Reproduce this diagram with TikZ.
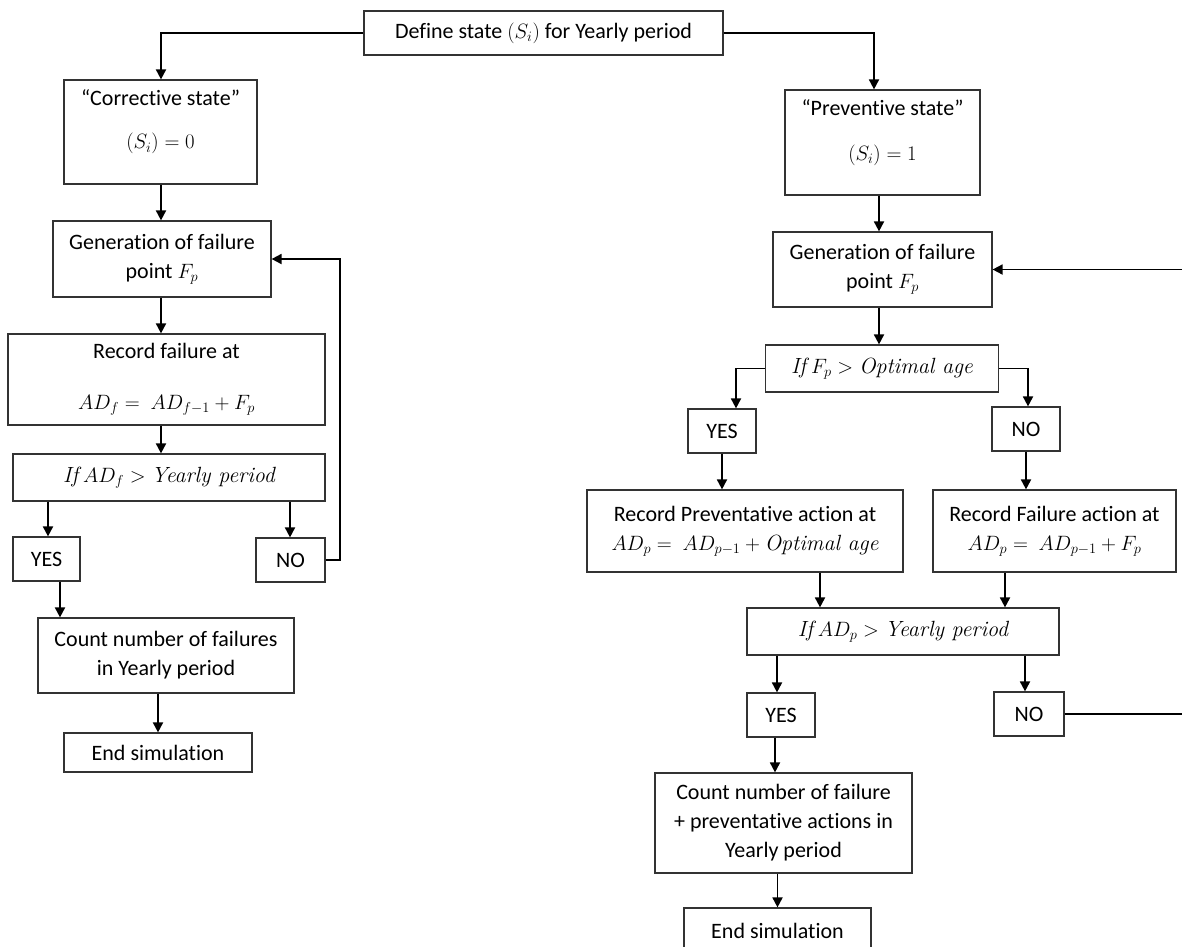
\documentclass[tikz,border=0pt]{standalone}
\usepackage{fontspec}
\setmainfont{Carlito}[Ligatures=NoCommon]
\usetikzlibrary{arrows.meta}
% italic serif words inside formulas
\newcommand\mw[1]{\mbox{\usefont{TU}{lmr}{m}{it}#1}}
\begin{document}
\begin{tikzpicture}[x=1pt,y=-1pt,
  font=\fontsize{22}{29}\selectfont,
  box/.style={draw=black!80, line width=1.2pt, inner sep=0pt, align=center, fill=white},
  flow/.style={line width=1.8pt, -{Triangle[length=10pt,width=10pt]}}]
\useasboundingbox (0,0) rectangle (1182,946);

% ---------- top ----------
\node[box, minimum width=359, minimum height=44] (def) at (543.5,33) {Define state $(S_i)$ for Yearly period};

% ---------- corrective branch ----------
\node[box, minimum width=193, minimum height=104] (corr) at (160.5,132) {“Corrective state”\\[14pt]$(S_i) = 0$\\[-4pt]\mbox{}};
\node[box, minimum width=218, minimum height=76] (gen1) at (162,259) {Generation of failure\\point $F_p$};
\node[box, minimum width=317, minimum height=91] (rec1) at (166.5,379.5) {Record failure at\\[22pt]$AD_f =\ AD_{f-1} + F_p$};
\node[box, minimum width=312, minimum height=47] (if1) at (169,477.5) {$\mw{If}\ AD_f > \mw{Yearly period}$};
\node[box, minimum width=67, minimum height=44] (yes1) at (46.5,559) {YES};
\node[box, minimum width=69, minimum height=44] (no1) at (290.5,560) {NO};
\node[box, minimum width=256, minimum height=75] (cnt1) at (166,655.5) {Count number of failures\\in Yearly period};
\node[box, minimum width=188, minimum height=39] (end1) at (158,752.5) {End simulation};

% ---------- preventive branch ----------
\node[box, minimum width=195, minimum height=105] (prev) at (882.5,142.5) {“Preventive state”\\[16pt]$(S_i) = 1$\\[-4pt]\mbox{}};
\node[box, minimum width=219, minimum height=75] (gen2) at (882.5,269.5) {Generation of failure\\point $F_p$};
\node[box, minimum width=233, minimum height=47] (if2) at (882,368.5) {$\mw{If}\ F_p > \mw{Optimal age}$};
\node[box, minimum width=68, minimum height=44] (yes2) at (722,431) {YES};
\node[box, minimum width=68, minimum height=44] (no2) at (1026,429) {NO};
\node[box, minimum width=316, minimum height=82] (recP) at (745,531) {Record Preventative action at\\$AD_p =\ AD_{p-1} + \mw{Optimal age}$};
\node[box, minimum width=243, minimum height=82] (recF) at (1054.5,531) {Record Failure action at\\$AD_p =\ AD_{p-1} + F_p$};
\node[box, minimum width=312, minimum height=47] (if3) at (903,631.5) {$\mw{If}\ AD_p > \mw{Yearly period}$};
\node[box, minimum width=68, minimum height=44] (yes3) at (781,715) {YES};
\node[box, minimum width=70, minimum height=44] (no3) at (1029,714) {NO};
\node[box, minimum width=257, minimum height=100] (cnt2) at (783.5,823) {Count number of failure\\+ preventative actions in\\Yearly period};
\node[box, minimum width=187, minimum height=46] (end2) at (777.5,931) {End simulation};

% ---------- connector columns ----------
\coordinate (cL) at (161,0);
\coordinate (cLyes) at (48,0);
\coordinate (cLno) at (290,0);
\coordinate (cLcnt) at (60,0);
\coordinate (cLloop) at (340,0);
\coordinate (cP) at (874,0);
\coordinate (cR) at (879,0);
\coordinate (cRyes) at (736,0);
\coordinate (cRno) at (1028,0);
\coordinate (cRp) at (820,0);
\coordinate (cRf) at (1005,0);
\coordinate (cRy3) at (777,0);
\coordinate (cRn3) at (1025,0);
\coordinate (cRc) at (775,0);
\coordinate (cRe) at (777.5,0);
\coordinate (cRedge) at (1195,0);

% ---------- corrective connectors ----------
\draw[flow] (def.west) -| (cL |- corr.north);
\draw[flow] (cL |- corr.south) -- (cL |- gen1.north);
\draw[flow] (cL |- gen1.south) -- (cL |- rec1.north);
\draw[flow] (cL |- rec1.south) -- (cL |- if1.north);
\draw[flow] (cLyes |- if1.south) -- (cLyes |- yes1.north);
\draw[flow] (cLno |- if1.south) -- (cLno |- no1.north);
\draw[flow] (no1.east) -- (cLloop |- no1.east) |- (gen1.east);
\draw[flow] (cLcnt |- yes1.south) -- (cLcnt |- cnt1.north);
\draw[flow] (end1.north |- cnt1.south) -- (end1.north);

% ---------- preventive connectors ----------
\draw[flow] (def.east) -| (cP |- prev.north);
\draw[flow] (cR |- prev.south) -- (cR |- gen2.north);
\draw[flow] (cR |- gen2.south) -- (cR |- if2.north);
\draw[flow] (if2.west) -| (cRyes |- yes2.north);
\draw[flow] (if2.east) -| (cRno |- no2.north);
\draw[flow] (yes2.south) -- (yes2.south |- recP.north);
\draw[flow] (no2.south) -- (no2.south |- recF.north);
\draw[flow] (cRp |- recP.south) -- (cRp |- if3.north);
\draw[flow] (cRf |- recF.south) -- (cRf |- if3.north);
\draw[flow] (cRy3 |- if3.south) -- (cRy3 |- yes3.north);
\draw[flow] (cRn3 |- if3.south) -- (cRn3 |- no3.north);
\draw[flow] (cRc |- yes3.south) -- (cRc |- cnt2.north);
\draw[flow] (cRe |- cnt2.south) -- (cRe |- end2.north);
\draw[flow] (no3.east) -- (cRedge |- no3.east) -- (cRedge |- gen2.east) -- (gen2.east);
\end{tikzpicture}
\end{document}
